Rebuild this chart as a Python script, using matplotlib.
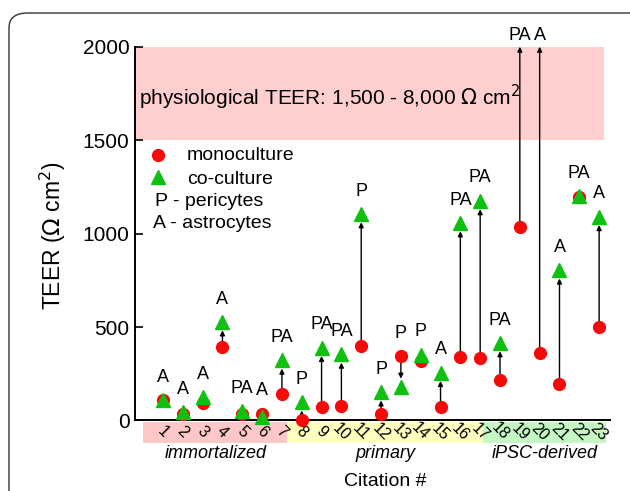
import numpy as np
import matplotlib
matplotlib.use('Agg')
import matplotlib.pyplot as plt
from matplotlib.patches import Rectangle, FancyBboxPatch

plt.rcParams['font.family'] = ['Liberation Sans', 'DejaVu Sans']

# citation numbers and TEER values (Ohm cm^2)
citation = np.arange(1, 24)
mono = [107, 37, 93, 393, 37, 37, 140, 4, 72, 77, 397, 36, 345, 316, 72,
        340, 336, 214, 1034, 363, 196, 1195, 500]
# None = co-culture value is off the scale (above 2000)
coculture = [110, 45, 125, 527, 50, 21, 322, 98, 390, 354, 1105, 152, 179, 352, 256,
             1057, 1175, 415, None, None, 804, 1201, 1090]
cell_type = ['A', 'A', 'A', 'A', 'PA', 'A', 'PA', 'P', 'PA', 'PA', 'P', 'P', 'P', 'P', 'A',
             'PA', 'PA', 'PA', 'PA', 'A', 'A', 'PA', 'A']

groups = ['immortalized', 'primary', 'iPSC-derived']
group_span = [(0.0, 7.27), (7.27, 17.15), (17.15, 23.37)]
group_color = ['#ffc8c8', '#ffffc0', '#c4f7c4']

red = '#f50a0a'
green = '#10c010'

fig = plt.figure(figsize=(6.3, 4.91), dpi=100)
ax = fig.add_axes([0.2143, 0.1436, 0.968 - 0.2143, 0.9049 - 0.1436])

# rounded panel border
fig.patches.append(FancyBboxPatch((9 / 630, -0.2), 1.2, 1.2 - 13 / 491,
                                  boxstyle='round,pad=0,rounding_size=0.03',
                                  transform=fig.transFigure, fill=False,
                                  ec='#333333', lw=1.0))

ax.axhspan(1500, 2000, xmin=0, xmax=0.987, color='#ffcfcf', lw=0, zorder=0)
ax.text(-0.2, 1731, 'physiological TEER: 1,500 - 8,000 $\\Omega$ cm$^2$',
        fontsize=15, va='center', ha='left')

co_plot = []
for x, m, c, lab in zip(citation, mono, coculture, cell_type):
    if c is None:
        ax.annotate('', xy=(x, 2000), xytext=(x, m),
                    arrowprops=dict(arrowstyle='-|>', color='k', lw=1,
                                    shrinkA=4, shrinkB=0, mutation_scale=7),
                    annotation_clip=False)
        ax.annotate(lab, (x, 2000), xytext=(0, 8), textcoords='offset points',
                    ha='center', va='center', fontsize=13, annotation_clip=False)
        co_plot.append(np.nan)
        continue
    co_plot.append(c)
    if abs(c - m) > 60:
        ax.annotate('', xy=(x, c), xytext=(x, m),
                    arrowprops=dict(arrowstyle='-|>', color='k', lw=1,
                                    shrinkA=4, shrinkB=6, mutation_scale=7),
                    annotation_clip=False)
    ax.annotate(lab, (x, max(m, c)), xytext=(0, 16.5), textcoords='offset points',
                ha='center', va='center', fontsize=13, annotation_clip=False)

ax.plot(citation, mono, 'o', color=red, ms=8.5, mec=red, clip_on=False, zorder=4)
ax.plot(citation, co_plot, '^', color=green, ms=9.5, mec=green, clip_on=False, zorder=5)

ax.set_xlim(-0.41, 23.54)
ax.set_ylim(0, 2000)
ax.set_yticks([0, 500, 1000, 1500, 2000])
ax.tick_params(axis='y', direction='in', length=6, width=1.2, labelsize=15, pad=4)
ax.set_xticks(citation)
ax.set_xticklabels([str(i) for i in citation], rotation=-45, ha='center', va='center',
                   fontsize=11.5)
ax.tick_params(axis='x', length=0, pad=8)
for s in ['top', 'right']:
    ax.spines[s].set_visible(False)
ax.spines['left'].set_linewidth(1.4)
ax.spines['bottom'].set_linewidth(1.4)

# category bands under the axis
trans = ax.get_xaxis_transform()
for name, (x0, x1), col in zip(groups, group_span, group_color):
    ax.add_patch(Rectangle((x0, -0.061), x1 - x0, 0.058, transform=trans,
                           color=col, lw=0, clip_on=False, zorder=0))
    ax.text((x0 + x1) / 2, -0.087, name, transform=trans, ha='center', va='center',
            fontsize=13, style='italic')

# legend, laid out by hand
ax.plot([0.0484], [0.710], 'o', color=red, ms=8.5, transform=ax.transAxes)
ax.plot([0.0484], [0.652], '^', color=green, ms=9.5, transform=ax.transAxes)
ax.text(0.109, 0.710, 'monoculture', transform=ax.transAxes, fontsize=14, va='center')
ax.text(0.109, 0.646, 'co-culture', transform=ax.transAxes, fontsize=14, va='center')
ax.text(0.042, 0.587, 'P - pericytes', transform=ax.transAxes, fontsize=14, va='center')
ax.text(0.038, 0.528, 'A - astrocytes', transform=ax.transAxes, fontsize=14, va='center')

fig.text(53 / 630, 1 - 236 / 491, 'TEER ($\\Omega$ cm$^2$)', rotation=90,
         ha='center', va='center', fontsize=16.5)
fig.text(385 / 630, 1 - 481 / 491, 'Citation #', ha='center', va='center', fontsize=14)

fig.savefig('out.png', dpi=100)
